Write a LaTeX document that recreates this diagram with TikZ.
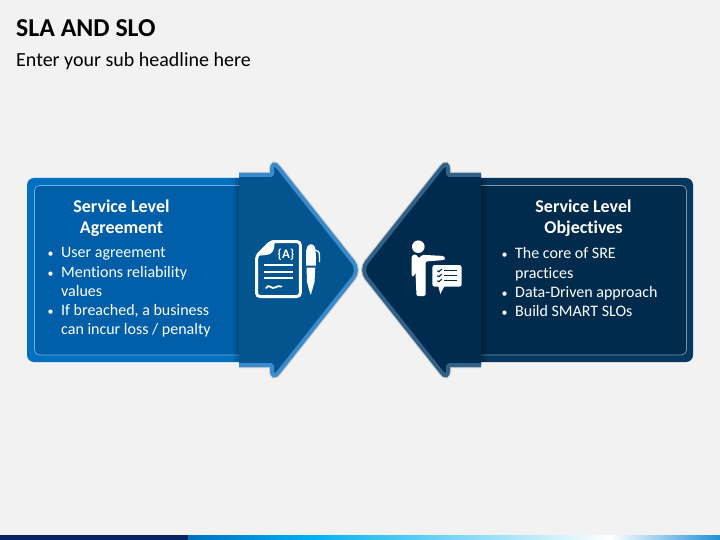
\documentclass[tikz,border=0pt]{standalone}
\usepackage{fontspec}
\setmainfont{Carlito}[Ligatures={NoCommon}]
\usetikzlibrary{positioning}
\definecolor{pagebg}{HTML}{F2F2F2}
\definecolor{slaouter}{HTML}{0070C0}
\definecolor{slainner}{HTML}{005FA8}
\definecolor{slaarrow}{HTML}{03558F}
\definecolor{slaedge}{HTML}{3A8BCB}
\definecolor{sloouter}{HTML}{05375F}
\definecolor{sloinner}{HTML}{002B4D}
\definecolor{sloarrow}{HTML}{002B4F}
\definecolor{sloedge}{HTML}{2F6189}
\definecolor{bardark}{HTML}{0A2463}
\definecolor{barblue}{HTML}{0070C0}
\definecolor{barcyan}{HTML}{00B0F0}
\definecolor{barend}{HTML}{1E90D8}
\newcommand{\blt}{\makebox[14pt][l]{\hspace*{0.5pt}\fontsize{12}{12}\selectfont\textbullet}}
\newcommand{\cont}{\hspace*{14pt}}
\newcommand{\arrowfill}{(239,175) [rounded corners=1.5pt] -- (272,175) -- (272,170) [rounded corners=10pt] -- (272,159.5) -- (359.5,270) -- (272,380.5) [rounded corners=1.5pt] -- (272,370) -- (272,365) [sharp corners] -- (239,365)}
\begin{document}
\begin{tikzpicture}[
        x=1pt, y=-1pt,
        headtext/.style={text=white, align=center, font=\fontsize{18}{21}\bfseries\selectfont},
        bodytext/.style={text=white, align=left, anchor=north west, inner sep=0pt, font=\fontsize{16}{19.2}\selectfont},
        icon/.style={fill=white, draw=none}
    ]
    \useasboundingbox (0,0) rectangle (720,540);
    \fill [pagebg] (0,0) rectangle (720,540);
    % bottom bar
    \fill [bardark] (0,535) rectangle (188,540);
    \shade [left color=barblue, right color=barcyan, middle color=barblue!50!barcyan] (188,535) rectangle (310,540);
    \shade [left color=barcyan, right color=white, middle color=barcyan!50!white] (310,535) rectangle (610,540);
    \shade [left color=white, right color=barend, middle color=barend!50!white] (610,535) rectangle (720,540);
    % title
    \node (title) [anchor=west, inner sep=0pt, font=\fontsize{25.8}{28}\bfseries\selectfont] at (16,28.5) {SLA AND SLO};
    \node (subtitle) [anchor=west, inner sep=0pt, font=\fontsize{20}{24}\selectfont] at (16,61) {Enter your sub headline here};
    % left panel
    \fill [slaouter, rounded corners=7pt] (27,178) rectangle (250,362);
    \draw [fill=slainner, draw=white!45!slaouter, line width=0.7pt, rounded corners=5pt] (34.5,185.5) -- (250,185.5) -- (250,355) -- (34.5,355) -- cycle;
    % right panel
    \fill [sloouter, rounded corners=7pt] (470,178) rectangle (693,362);
    \draw [fill=sloinner, draw=white!50!sloinner, line width=0.7pt, rounded corners=5pt] (470,185.5) -- (686.5,185.5) -- (686.5,355) -- (470,355) -- cycle;
    % shadow strips beside the arrows
    \foreach \w in {2,4,6} {
        \fill [black, opacity=0.07] (239-\w,178) rectangle (239,362);
        \fill [black, opacity=0.09] (481,178) rectangle (481+\w,362);
    }
    % left arrow
    \draw [black!55, opacity=0.3, line width=6pt] \arrowfill;
    \fill [slaarrow] \arrowfill -- cycle;
    \draw [slaedge, line width=4pt] \arrowfill;
    % right arrow
    \begin{scope}[shift={(720,0)}, xscale=-1]
        \draw [black!55, opacity=0.3, line width=6pt] \arrowfill;
        \fill [sloarrow] \arrowfill -- cycle;
        \draw [sloedge, line width=4pt] \arrowfill;
    \end{scope}
    % document icon
    \draw [white, line width=3pt, rounded corners=3.5pt] (256.5,256) -- (271,241.5) -- (300.3,241.5) -- (300.3,296.5) -- (256.5,296.5) -- cycle;
    \fill [icon] (255.5,256) -- (272,240.5) -- (274.5,241) .. controls (275,250) and (272,255) .. (266,255) -- cycle;
    \foreach \liney in {265,271.7,278.3}
        \draw [white, line width=1.8pt] (264,\liney) -- (293,\liney);
    \draw [white, line width=1.8pt, line cap=round] (266,288) .. controls (269,283) and (272,290) .. (275,287.5) .. controls (277,286) and (279,286) .. (281.5,286.5);
    \node (bracea) [text=white, inner sep=0pt, font=\fontsize{13}{13}\bfseries\selectfont] at (286,254.3) {\{A\}};
    % pen icon
    \fill [icon] (306,254) .. controls (306,247) and (308,244.3) .. (311,244.3) .. controls (314,244.3) and (315.8,247) .. (315.8,254) -- (315.8,265.5) -- (306,265.5) -- cycle;
    \fill [icon] (306.5,267.5) -- (315.3,267.5) -- (314.5,282) -- (311,294.3) -- (310.3,294.3) -- (307,282) -- cycle;
    \draw [white, line width=1.3pt] (315,250) .. controls (318,250) and (319.5,252) .. (319.5,256) -- (319.5,262);
    % presenter icon
    \fill [icon] (418.3,246.7) circle (6.3pt);
    \fill [icon, rounded corners=1.5pt] (411.6,276.5) -- (411.6,258) .. controls (412,255.5) and (414,254.5) .. (416,254.3) -- (419,258.5) -- (422,254.8) -- (444,256) -- (445.5,258.5) -- (444,260) -- (425.5,261.5) -- (425.5,296) -- (416.5,296) -- (415.5,272) -- (414,276.5) -- cycle;
    % speech bubble icon
    \fill [icon, rounded corners=2.5pt] (432.3,265) -- (461.7,265) -- (461.7,286.7) -- (432.3,286.7) -- cycle;
    \fill [icon] (438,285) -- (445,285) -- (440.3,294) -- cycle;
    \foreach \liney in {270.7,275.7,280.7} {
        \draw [sloarrow, line width=1.2pt] (444,\liney) -- (457,\liney);
        \draw [sloarrow, line width=1.1pt] (437.3,\liney) -- (438.8,\liney+1) -- (441.8,\liney-1.5);
    }
    % left text
    \node (slahead) [headtext] at (121.5,218) {Service Level\\Agreement};
    \node (slabody) [bodytext] at (47,247.5) {\blt User agreement\\\blt Mentions reliability\\\cont values\\\blt If breached, a business\\\cont can incur loss / penalty};
    % right text
    \node (slohead) [headtext] at (583.5,218) {Service Level\\Objectives};
    \node (slobody) [bodytext] at (501,247.5) {\blt The core of SRE\\\cont practices\\\blt Data-Driven approach\\\blt Build SMART SLOs};
\end{tikzpicture}
\end{document}
